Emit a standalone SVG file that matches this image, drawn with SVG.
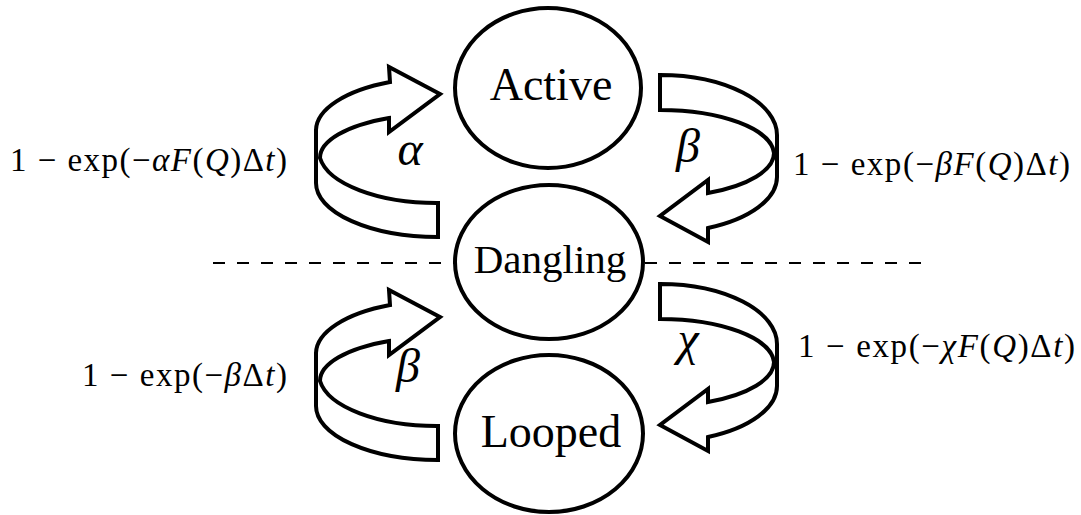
<svg xmlns="http://www.w3.org/2000/svg" xmlns:xlink="http://www.w3.org/1999/xlink" width="1081" height="515" viewBox="0 0 1081 515">
  <style>
    .state { fill: #ffffff; stroke: #000000; stroke-width: 4; }
    .ring { fill: #ffffff; stroke: #000000; stroke-width: 4; stroke-linejoin: miter; stroke-miterlimit: 10; }
    .name { font-family: "Liberation Serif", "DejaVu Serif", serif; fill: #000000; text-anchor: middle; }
    .greek { font-family: "Liberation Serif", "DejaVu Serif", serif; font-style: italic; font-size: 48px; fill: #000000; text-anchor: middle; }
    .rate { font-family: "Liberation Serif", "DejaVu Serif", serif; font-size: 33px; fill: #000000; }
    .it { font-style: italic; }
    .divider { stroke: #000000; stroke-width: 2; stroke-dasharray: 12 12; fill: none; }
  </style>
  <defs>
    <!-- curled arrow rising on the left side of a state -->
    <path id="curl-left" class="ring" d="M 316 130 L 316 183 A 122 54 0 0 0 438 237 L 438 203 A 118 52 0 0 1 320 158 A 120 44 0 0 1 389 118 L 389 132 L 440 94 L 389 67 L 390 82 A 124 53 0 0 0 316 130 Z"/>
    <!-- curled arrow descending on the right side of a state -->
    <path id="curl-right" class="ring" d="M 660 75 A 117 60 0 0 1 777 135 L 777 177 A 117 56 0 0 1 708 228 L 708 242 L 660 216 L 708 180 L 708 193 A 114 44 0 0 0 774 153 A 114 45 0 0 0 660 110 Z"/>
  </defs>

  <rect width="1081" height="515" fill="#ffffff"/>

  <!-- dashed separator behind the middle state -->
  <line class="divider" x1="213" y1="263" x2="921" y2="263"/>

  <g id="connectors">
    <use xlink:href="#curl-left"/>
    <use xlink:href="#curl-right"/>
    <use xlink:href="#curl-left" transform="translate(0,223)"/>
    <use xlink:href="#curl-right" transform="translate(0,209)"/>

    <text class="greek" x="410" y="165">α</text>
    <text class="greek" x="688" y="162">β</text>
    <text class="greek" x="408" y="382">β</text>
    <text class="greek" x="688" y="355">χ</text>

    <text class="rate" x="10" y="171" textLength="277" lengthAdjust="spacing">1 − exp(−<tspan class="it">αF</tspan>(<tspan class="it">Q</tspan>)Δ<tspan class="it">t</tspan>)</text>
    <text class="rate" x="793" y="175" textLength="277" lengthAdjust="spacing">1 − exp(−<tspan class="it">βF</tspan>(<tspan class="it">Q</tspan>)Δ<tspan class="it">t</tspan>)</text>
    <text class="rate" x="798" y="357" textLength="277" lengthAdjust="spacing">1 − exp(−<tspan class="it">χF</tspan>(<tspan class="it">Q</tspan>)Δ<tspan class="it">t</tspan>)</text>
    <text class="rate" x="82" y="386" textLength="205" lengthAdjust="spacing">1 − exp(−<tspan class="it">β</tspan>Δ<tspan class="it">t</tspan>)</text>
  </g>

  <g id="active">
    <ellipse class="state" cx="548" cy="88" rx="93" ry="80"/>
    <text class="name" x="551" y="100" font-size="46">Active</text>
  </g>

  <g id="dangling">
    <ellipse class="state" cx="549" cy="262" rx="94" ry="77"/>
    <text class="name" x="550" y="273" font-size="41">Dangling</text>
  </g>

  <g id="looped">
    <ellipse class="state" cx="549" cy="433.5" rx="94" ry="78.5"/>
    <text class="name" x="551" y="447" font-size="46">Looped</text>
  </g>
</svg>
